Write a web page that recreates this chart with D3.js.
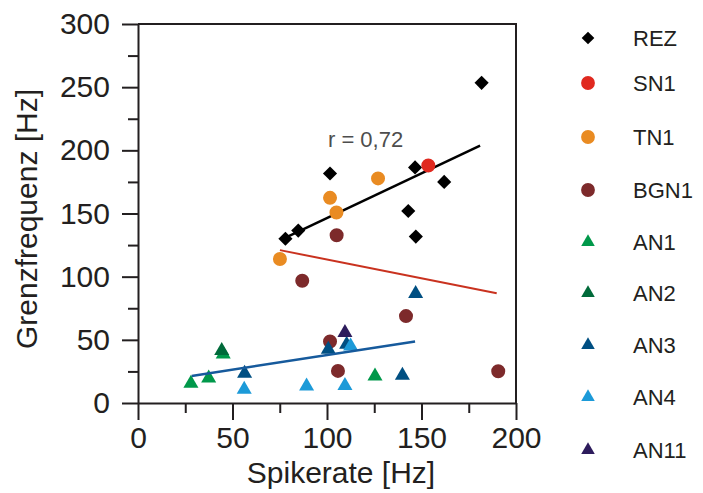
<!DOCTYPE html>
<html>
<head>
<meta charset="utf-8">
<script src="https://cdn.jsdelivr.net/npm/d3@7"></script>
<style>
  body { margin: 0; background: #fff; }
  svg { font-family: "Liberation Sans", Arial, sans-serif; }
  .axis path, .axis line { stroke: #231f20; stroke-width: 2; }
  .axis text { fill: #231f20; font-size: 30px; }
</style>
</head>
<body>
<svg id="chart" width="703" height="493"></svg>
<script>
// data
const seriesNames = ["REZ", "SN1", "TN1", "BGN1", "AN1", "AN2", "AN3", "AN4", "AN11"];
const rez  = [[78, 130], [84.8, 136.5], [101.6, 181.7], [146.6, 186.5], [162, 175], [143, 152], [147, 131.7], [181.8, 253.4]];
const sn1  = [[153.6, 188]];
const tn1  = [[101.6, 162.4], [105, 150.8], [127, 177.8], [75.1, 114]];
const bgn1 = [[105.1, 132.8], [86.9, 96.8], [101.6, 48.7], [105.8, 25.4], [141.8, 68.8], [190.6, 25.1]];
const an1  = [[28, 15.5], [37.4, 19.7], [45.1, 38.6], [125.4, 21.2]];
const an2  = [[44.3, 41.5]];
const an3  = [[56.4, 23.4], [100.7, 42.4], [146.9, 86.6], [139.9, 21.8], [110.4, 46.4]];
const an4  = [[56.2, 10.7], [89.2, 13.3], [109.5, 13.8], [112.5, 45]];
const an11 = [[109.5, 55.6]];
const seriesPoints = [rez, sn1, tn1, bgn1, an1, an2, an3, an4, an11];

// fitted lines (end points)
const fitREZ  = [[76.7, 130], [181, 203.7]];
const fitBGN1 = [[75.1, 121], [189.8, 86.8]];
const fitAN   = [[28.4, 21.4], [146.6, 48.7]];
const rLabel = "r = 0,72";
const rLabelPos = [100.5, 203];

const xTicks = [0, 50, 100, 150, 200];
const xMinor = [25, 75, 125, 175];
const yTicks = [0, 50, 100, 150, 200, 250, 300];
const yMinor = [25, 75, 125, 175, 225, 275];

// styles
const seriesColors = ["#000000", "#e0291f", "#e98b22", "#7d2a2b", "#00984a", "#006a3a", "#004f82", "#1c9ad8", "#2d1c5c"];
const seriesShapes = ["diamond", "circle", "circle", "circle", "tri", "tri", "tri", "tri", "tri"];

const margin = {left: 138, top: 24, right: 187, bottom: 90};
const width = 703 - margin.left - margin.right;   // 378
const height = 493 - margin.top - margin.bottom;  // 379

const svg = d3.select("#chart");
const g = svg.append("g").attr("transform", `translate(${margin.left},${margin.top})`);

const x = d3.scaleLinear().domain([0, 200]).range([0, width]);
const y = d3.scaleLinear().domain([0, 300]).range([height, 0]);

function shapePath(shape, big) {
  if (shape === "circle") return d3.symbol(d3.symbolCircle, big ? 154 : 150)();
  if (shape === "tri") return d3.symbol(d3.symbolTriangle, big ? 98 : 80)();
  return d3.symbol(d3.symbolSquare, big ? 100 : 80)();
}

// minor ticks
g.append("g").attr("class", "axis")
  .call(d3.axisLeft(y).tickValues(yMinor).tickSize(10).tickSizeOuter(0).tickFormat(""))
  .select(".domain").remove();
g.append("g").attr("class", "axis")
  .attr("transform", `translate(0,${height})`)
  .call(d3.axisBottom(x).tickValues(xMinor).tickSize(10).tickSizeOuter(0).tickFormat(""))
  .select(".domain").remove();

// major axes
g.append("g").attr("class", "axis")
  .call(d3.axisLeft(y).tickValues(yTicks).tickSize(16).tickSizeOuter(0).tickPadding(12));
g.append("g").attr("class", "axis")
  .attr("transform", `translate(0,${height})`)
  .call(d3.axisBottom(x).tickValues(xTicks).tickSize(17).tickSizeOuter(0).tickPadding(7));

// frame top/right
g.append("path")
  .attr("d", `M0,0H${width}V${height}`)
  .attr("fill", "none").attr("stroke", "#231f20").attr("stroke-width", 2);

const line = d3.line().x(d => x(d[0])).y(d => y(d[1]));

g.append("path").datum(fitREZ).attr("d", line)
  .attr("fill", "none").attr("stroke", "#000").attr("stroke-width", 2.5);
g.append("path").datum(fitBGN1).attr("d", line)
  .attr("fill", "none").attr("stroke", "#c9321f").attr("stroke-width", 2);

seriesPoints.forEach((pts, i) => {
  g.selectAll(null).data(pts).join("path")
    .attr("d", shapePath(seriesShapes[i], true))
    .attr("transform", d => `translate(${x(d[0])},${y(d[1])})` + (seriesShapes[i] === "diamond" ? " rotate(45)" : ""))
    .attr("fill", seriesColors[i]);
});

g.append("path").datum(fitAN).attr("d", line)
  .attr("fill", "none").attr("stroke", "#165a9c").attr("stroke-width", 2.5);

g.append("text")
  .attr("x", x(rLabelPos[0])).attr("y", y(rLabelPos[1]))
  .attr("font-size", 22).attr("fill", "#4d4d4d")
  .text(rLabel);

// axis titles
svg.append("text")
  .attr("x", 341).attr("y", 483)
  .attr("text-anchor", "middle").attr("font-size", 30).attr("fill", "#231f20")
  .text("Spikerate [Hz]");
svg.append("text")
  .attr("transform", "translate(37,219) rotate(-90)")
  .attr("text-anchor", "middle").attr("font-size", 30).attr("fill", "#231f20")
  .text("Grenzfrequenz [Hz]");

// legend
const legendY = [38, 83, 137, 190, 242, 293, 345, 397, 450];
const legend = svg.append("g");
seriesNames.forEach((name, i) => {
  const row = legend.append("g").attr("transform", `translate(0,${legendY[i]})`);
  row.append("path")
    .attr("d", shapePath(seriesShapes[i], false))
    .attr("transform", `translate(588,0)` + (seriesShapes[i] === "diamond" ? " rotate(45)" : ""))
    .attr("fill", seriesColors[i]);
  row.append("text")
    .attr("x", 633).attr("dy", "0.36em")
    .attr("font-size", 22).attr("fill", "#231f20")
    .text(name);
});
</script>
</body>
</html>
